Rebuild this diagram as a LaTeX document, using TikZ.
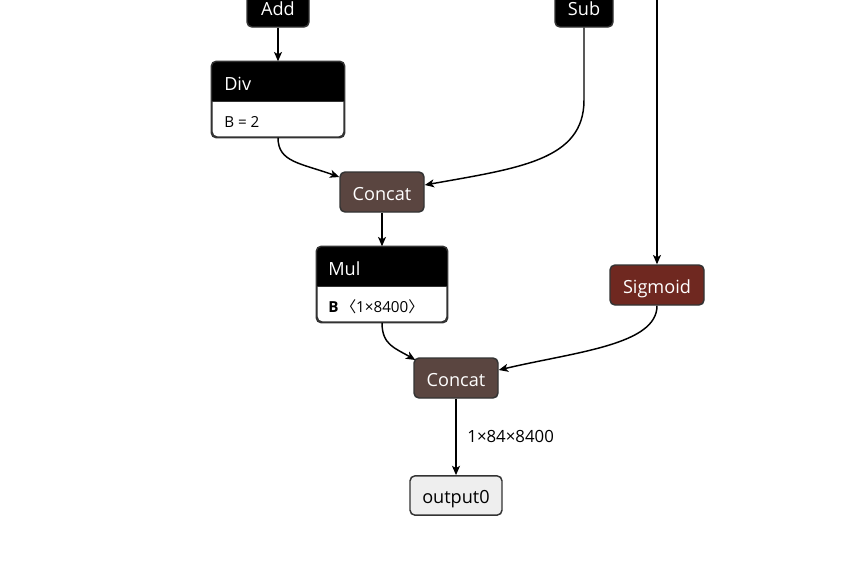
\documentclass[tikz,border=0pt]{standalone}
\usepackage{fontspec}
\setmainfont{Open Sans}
\newfontfamily\cjkf{Noto Sans CJK SC}
\usetikzlibrary{arrows.meta,calc}
\definecolor{concatc}{HTML}{5A4540}
\definecolor{sigc}{HTML}{6F2820}
\definecolor{bordc}{HTML}{333333}
\definecolor{outc}{HTML}{EEEEEE}
\tikzset{
  box/.style={draw=bordc, line width=1.1pt, rounded corners=3.75pt, inner sep=0pt, minimum height=30pt, text height=12.7pt, text depth=0pt, font=\fontsize{13.6}{15}\selectfont},
  blk/.style={box, fill=black, text=white},
  cat/.style={box, fill=concatc, text=white},
  sig/.style={box, fill=sigc, text=white},
  outb/.style={box, fill=outc, text=black},
  arr/.style={line width=1.1pt, -{Stealth[length=7pt,width=6pt,inset=1.8pt]}},
  hdr/.style={anchor=west, text=white, inner sep=0pt, font=\fontsize{13.6}{15}\selectfont},
  attr/.style={anchor=west, text=black, inner sep=0pt, font=\fontsize{11.4}{13}\selectfont},
}
\begin{document}
\begin{tikzpicture}[x=0.75pt,y=-0.75pt]
\useasboundingbox[fill=white] (0,0) rectangle (842,586);
\begin{scope}
\clip (0,0) rectangle (842,586);
% top nodes (partly cut off)
\node[blk, minimum width=46.5pt] (add) at (278,7) {Add};
\node[blk, minimum width=43.5pt] (sub) at (584,7) {Sub};
\coordinate (addin) at (345,-22);
\coordinate (sigin) at (657,-10);
% Div
\node[box, fill=white, minimum width=99pt, minimum height=56.25pt] (div) at (278,99.5) {};
\begin{scope}
\clip[rounded corners=3.75pt] (div.south west) rectangle (div.north east);
\fill[black] (div.north west) rectangle ($(div.north east)+(0,40)$);
\end{scope}
\draw[bordc, line width=1.1pt, rounded corners=3.75pt] (div.south west) rectangle (div.north east);
\draw[bordc, line width=0.8pt] ($(div.north west)+(0,40)$) -- ($(div.north east)+(0,40)$);
\node[hdr] (divt) at (224,84) {Div};
\node[attr] (diva) at (224,122) {B = 2};
% Concat 1
\node[cat, minimum width=63pt] (c1) at (382,192) {Concat};
% Mul
\node[box, fill=white, minimum width=97.5pt, minimum height=56.25pt] (mul) at (382,284.5) {};
\begin{scope}
\clip[rounded corners=3.75pt] (mul.south west) rectangle (mul.north east);
\fill[black] (mul.north west) rectangle ($(mul.north east)+(0,40)$);
\end{scope}
\draw[bordc, line width=1.1pt, rounded corners=3.75pt] (mul.south west) rectangle (mul.north east);
\draw[bordc, line width=0.8pt] ($(mul.north west)+(0,40)$) -- ($(mul.north east)+(0,40)$);
\node[hdr] (mult) at (328,269) {Mul};
\node[attr] (mula) at (328,307) {\textbf{B}\,{\cjkf 〈}1×8400{\cjkf 〉}};
% Sigmoid
\node[sig, minimum width=70.5pt] (sig) at (657,285) {Sigmoid};
% Concat 2
\node[cat, minimum width=63pt] (c2) at (456,378) {Concat};
% output
\node[outb, minimum width=69pt, minimum height=29.5pt] (out) at (456,495.5) {output0};
% edges
\draw[arr] (addin) -- ($(add.east)+(0,-9)$);
\draw[arr] (add) -- (div);
\draw[arr] (sigin) -- (sig);
\draw[arr] (div.south) .. controls (278,162) and (300,163) .. ($(c1.west)+(0,-15)$);
\draw[arr] (sub.south) -- (584,100) .. controls (584,160) and (520,168) .. ($(c1.east)+(0,-7)$);
\draw[arr] (c1) -- (mul);
\draw[arr] (mul.south) .. controls (382,345) and (395,348) .. ($(c2.west)+(2,-18)$);
\draw[arr] (sig.south) .. controls (657,345) and (575,352) .. ($(c2.east)+(0,-8)$);
\draw[arr] (c2) -- node[right=8pt, font=\fontsize{12.6}{14}\selectfont, inner sep=0pt] (lbl) {1×84×8400} (out);
\end{scope}
\end{tikzpicture}
\end{document}
